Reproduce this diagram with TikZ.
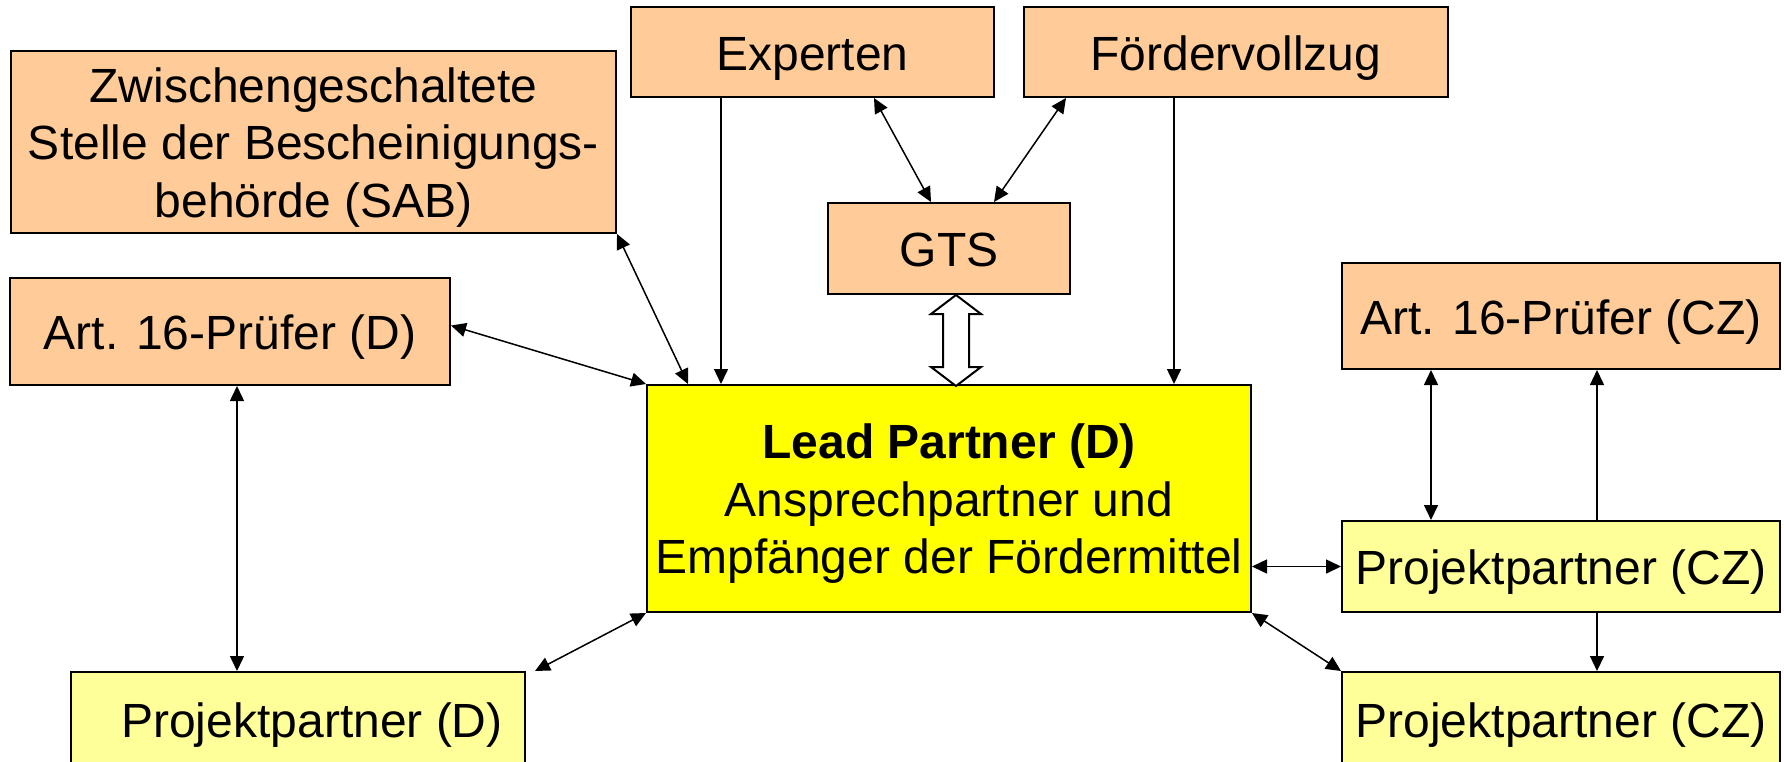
\documentclass[tikz,border=0pt]{standalone}
\usepackage{fontspec}
\setmainfont{Liberation Sans}
\usetikzlibrary{arrows.meta,calc}
\definecolor{peach}{HTML}{FFCC99}
\definecolor{leadyellow}{HTML}{FFFF00}
\definecolor{ppyellow}{HTML}{FFFF99}
\begin{document}
\begin{tikzpicture}[x=1pt,y=-1pt,
  font=\fontsize{48}{57.5}\selectfont,
  >={Triangle[length=15pt,width=14pt]},
  box/.style={draw=black,line width=2pt,inner sep=0pt,align=center},
  oneline/.style={text height=47pt,text depth=11pt},
  threeline/.style={text height=162pt,text depth=12pt},
  obox/.style={box,fill=peach},
  lbox/.style={box,fill=leadyellow},
  pbox/.style={box,fill=ppyellow},
  conn/.style={line width=1.5pt},
  fat/.style={draw=black,fill=white,line width=2pt,line join=miter}]
\useasboundingbox (0,0) rectangle (1784,761);
\clip (0,0) rectangle (1784,761);
\fill[white] (0,0) rectangle (1784,761);

\node[obox,threeline,minimum width=605pt,minimum height=182pt] (sab) at (313.5,142)
  {Zwischengeschaltete\\Stelle der Bescheinigungs-\\behörde (SAB)};
\node[obox,oneline,minimum width=363pt,minimum height=90pt] (exp) at (812.5,52) {Experten};
\node[obox,oneline,minimum width=424pt,minimum height=90pt] (foerd) at (1236,52) {Fördervollzug};
\node[obox,oneline,minimum width=242pt,minimum height=91pt] (gts) at (949,248.5) {GTS};
\node[obox,oneline,minimum width=440pt,minimum height=107pt] (artd) at (230,331.5) {Art. 16-Prüfer (D)};
\node[lbox,threeline,minimum width=604pt,minimum height=227pt] (lead) at (949,498.5)
  {\textbf{Lead Partner (D)}\\Ansprechpartner und\\Empfänger der Fördermittel};
\node[obox,oneline,minimum width=438pt,minimum height=106pt] (artcz) at (1561,316) {Art. 16-Prüfer (CZ)};
\node[pbox,oneline,minimum width=438pt,minimum height=91pt] (ppcz1) at (1561,566.5) {Projektpartner (CZ)};
\node[pbox,oneline,minimum width=454pt,minimum height=94pt] (ppd) at (298,719) {\hspace*{28pt}Projektpartner (D)};
\node[pbox,oneline,minimum width=438pt,minimum height=94pt] (ppcz2) at (1561,719) {Projektpartner (CZ)};

% connectors
\draw[conn,<->] (sab.south east) -- ($(lead.north west)+(42,0)$);
\draw[conn,<->] ($(artd.east)+(0,-6)$) -- (lead.north west);
\draw[conn,->] ($(exp.south west)+(91,0)$) -- ($(lead.north west)+(75,0)$);
\draw[conn,<->] ($(exp.south west)+(244,0)$) -- ($(gts.north west)+(104,0)$);
\draw[conn,<->] ($(foerd.south west)+(43,0)$) -- ($(gts.north west)+(167,0)$);
\draw[conn,->] ($(foerd.south west)+(151,0)$) -- ($(lead.north west)+(528,0)$);
\draw[fat] ($(gts.south)+(7,0)$) -- ++(25,19) -- ++(-12,0) -- ++(0,53) -- ++(12,0)
  -- ++(-25,19) -- ++(-25,-19) -- ++(12,0) -- ++(0,-53) -- ++(-12,0) -- cycle;
\draw[conn,<->] ($(artd.south west)+(228,0)$) -- ($(ppd.north west)+(167,0)$);
\draw[conn,<->] ($(ppd.north east)+(9,0)$) -- (lead.south west);
\draw[conn,<->] (lead.east |- ppcz1.west) -- (ppcz1.west);
\draw[conn,<->] (lead.south east) -- (ppcz2.north west);
\draw[conn,<->] ($(artcz.south west)+(90,0)$) -- ($(ppcz1.north west)+(90,0)$);
\draw[conn,->] ($(ppcz1.north west)+(256,0)$) -- ($(artcz.south west)+(256,0)$);
\draw[conn,->] ($(ppcz1.south west)+(256,0)$) -- ($(ppcz2.north west)+(256,0)$);
\end{tikzpicture}
\end{document}
